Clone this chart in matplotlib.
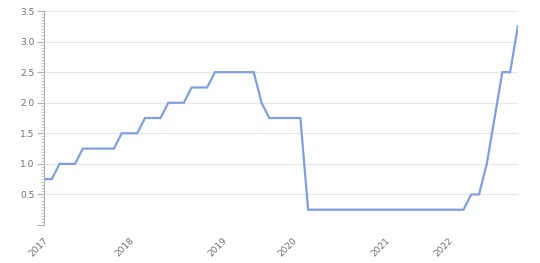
import numpy as np
import matplotlib
matplotlib.use("Agg")
import matplotlib.pyplot as plt
from matplotlib.ticker import MultipleLocator

# rate level per observation (category axis)
rate = [0.75, 0.75, 1.0, 1.0, 1.0,
        1.25, 1.25, 1.25, 1.25, 1.25,
        1.5, 1.5, 1.5,
        1.75, 1.75, 1.75,
        2.0, 2.0, 2.0,
        2.25, 2.25, 2.25,
        2.5, 2.5, 2.5, 2.5, 2.5, 2.5,
        2.0,
        1.75, 1.75, 1.75, 1.75, 1.75,
        0.25, 0.25, 0.25, 0.25, 0.25, 0.25, 0.25, 0.25, 0.25, 0.25,
        0.25, 0.25, 0.25, 0.25, 0.25, 0.25, 0.25, 0.25, 0.25, 0.25, 0.25,
        0.5, 0.5, 1.0, 1.75, 2.5, 2.5, 3.25]
year_pos = [0, 11, 23, 32, 44, 52]
year_labels = ["2017", "2018", "2019", "2020", "2021", "2022"]
y_ticks = [0.5, 1.0, 1.5, 2.0, 2.5, 3.0, 3.5]

LINE = "#7f9fe0"
GRID = "#e8e8e8"
TXT = "#707070"

fig = plt.figure(figsize=(5.4, 2.63), dpi=100, facecolor="white")
ax = fig.add_axes([0.0815, 0.1445, 0.8775, 0.8135])

x = np.arange(len(rate))
ax.plot(x, rate, color=LINE, linewidth=1.6, solid_joinstyle="miter")

ax.set_xlim(0, len(rate) - 1)
ax.set_ylim(0, 3.5)

ax.set_yticks([0.0] + y_ticks)
ax.set_yticklabels([""] + [f"{v:.1f}" for v in y_ticks])
ax.yaxis.set_minor_locator(MultipleLocator(0.05))
ax.tick_params(axis="y", which="major", length=5, width=0.8, color="#b0b0b0",
               labelsize=6.5, labelcolor=TXT, pad=2)
ax.tick_params(axis="y", which="minor", length=2.5, width=0.6, color="#c0c0c0")

ax.set_xticks(year_pos)
ax.set_xticklabels(year_labels, rotation=45, ha="right", rotation_mode="anchor")
ax.tick_params(axis="x", length=0, labelsize=6.5, labelcolor=TXT, pad=8)

ax.grid(axis="y", color=GRID, linewidth=0.8)
ax.set_axisbelow(True)
for side in ["top", "right", "bottom"]:
    ax.spines[side].set_visible(False)
ax.spines["left"].set_color("#b0b0b0")
ax.spines["left"].set_linewidth(0.8)

fig.savefig("out.png", dpi=100, facecolor="white")
